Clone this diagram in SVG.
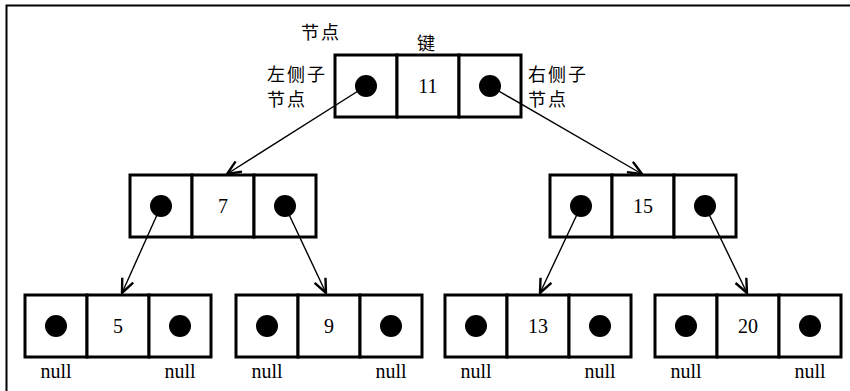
<svg xmlns="http://www.w3.org/2000/svg" width="850" height="391" viewBox="0 0 850 391">
<style>
.cell{fill:#fff;stroke:#000;stroke-width:3}
.dot{fill:#000}
.num{font-family:"Liberation Serif","Times New Roman",serif;font-size:20px;fill:#000;text-anchor:middle}
.nul{font-family:"Liberation Serif","Times New Roman",serif;font-size:20px;fill:#000;text-anchor:middle}
.cjk{font-family:"Noto Sans CJK SC","Liberation Serif",sans-serif;font-size:18px;letter-spacing:2px;fill:#000}
.edge{stroke:#000;stroke-width:1.4;fill:none;marker-end:url(#arr)}
</style>
<defs>
<marker id="arr" markerUnits="userSpaceOnUse" markerWidth="16" markerHeight="14" viewBox="0 0 16 14" refX="15" refY="7" orient="auto">
<path d="M1,1 L15,7 L1,13" fill="none" stroke="#000" stroke-width="2.4"/>
</marker>
</defs>
<rect width="850" height="391" fill="#fff"/>
<path d="M6.5,391 V5.5 H850" fill="none" stroke="#000" stroke-width="2"/>

<g id="labels">
<text class="cjk" x="301" y="39">节点</text>
<text class="cjk" x="417" y="50">键</text>
<text class="cjk" x="267" y="81">左侧子</text>
<text class="cjk" x="267" y="106">节点</text>
<text class="cjk" x="528" y="81">右侧子</text>
<text class="cjk" x="528" y="106">节点</text>
</g>

<g id="node-11">
<rect class="cell" x="335" y="55" width="62" height="62"/>
<rect class="cell" x="397" y="55" width="62" height="62"/>
<rect class="cell" x="459" y="55" width="62" height="62"/>
<circle class="dot" cx="366" cy="86" r="11"/>
<circle class="dot" cx="490" cy="86" r="11"/>
<text class="num" x="428" y="93">11</text>
</g>

<g id="node-7">
<rect class="cell" x="130" y="175" width="62" height="62"/>
<rect class="cell" x="192" y="175" width="62" height="62"/>
<rect class="cell" x="254" y="175" width="62" height="62"/>
<circle class="dot" cx="161" cy="206" r="11"/>
<circle class="dot" cx="285" cy="206" r="11"/>
<text class="num" x="223" y="213">7</text>
</g>

<g id="node-15">
<rect class="cell" x="550" y="175" width="62" height="62"/>
<rect class="cell" x="612" y="175" width="62" height="62"/>
<rect class="cell" x="674" y="175" width="62" height="62"/>
<circle class="dot" cx="581" cy="206" r="11"/>
<circle class="dot" cx="705" cy="206" r="11"/>
<text class="num" x="643" y="213">15</text>
</g>

<g id="node-5">
<rect class="cell" x="25" y="295" width="62" height="62"/>
<rect class="cell" x="87" y="295" width="62" height="62"/>
<rect class="cell" x="149" y="295" width="62" height="62"/>
<circle class="dot" cx="56" cy="326" r="11"/>
<circle class="dot" cx="180" cy="326" r="11"/>
<text class="num" x="118" y="333">5</text>
<text class="nul" x="56" y="378">null</text>
<text class="nul" x="180" y="378">null</text>
</g>

<g id="node-9">
<rect class="cell" x="236" y="295" width="62" height="62"/>
<rect class="cell" x="298" y="295" width="62" height="62"/>
<rect class="cell" x="360" y="295" width="62" height="62"/>
<circle class="dot" cx="267" cy="326" r="11"/>
<circle class="dot" cx="391" cy="326" r="11"/>
<text class="num" x="329" y="333">9</text>
<text class="nul" x="267" y="378">null</text>
<text class="nul" x="391" y="378">null</text>
</g>

<g id="node-13">
<rect class="cell" x="445" y="295" width="62" height="62"/>
<rect class="cell" x="507" y="295" width="62" height="62"/>
<rect class="cell" x="569" y="295" width="62" height="62"/>
<circle class="dot" cx="476" cy="326" r="11"/>
<circle class="dot" cx="600" cy="326" r="11"/>
<text class="num" x="538" y="333">13</text>
<text class="nul" x="476" y="378">null</text>
<text class="nul" x="600" y="378">null</text>
</g>

<g id="node-20">
<rect class="cell" x="655" y="295" width="62" height="62"/>
<rect class="cell" x="717" y="295" width="62" height="62"/>
<rect class="cell" x="779" y="295" width="62" height="62"/>
<circle class="dot" cx="686" cy="326" r="11"/>
<circle class="dot" cx="810" cy="326" r="11"/>
<text class="num" x="748" y="333">20</text>
<text class="nul" x="686" y="378">null</text>
<text class="nul" x="810" y="378">null</text>
</g>

<g id="connectors">
<line class="edge" x1="366" y1="86" x2="227" y2="174"/>
<line class="edge" x1="490" y1="86" x2="642" y2="174"/>
<line class="edge" x1="161" y1="206" x2="122" y2="293"/>
<line class="edge" x1="285" y1="206" x2="326" y2="293"/>
<line class="edge" x1="581" y1="206" x2="540" y2="293"/>
<line class="edge" x1="705" y1="206" x2="747" y2="293"/>
</g>
</svg>
